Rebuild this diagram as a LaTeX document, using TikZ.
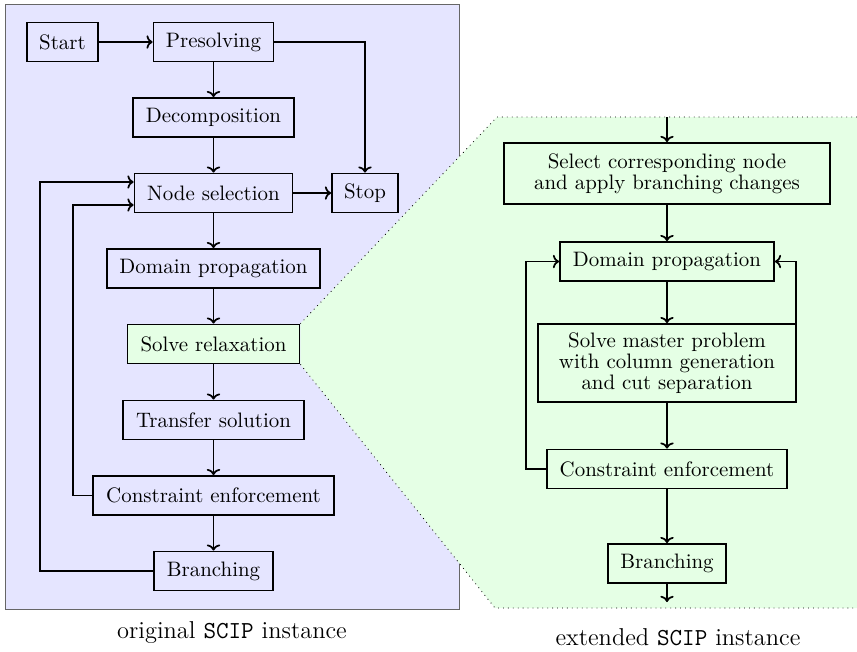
\documentclass[tikz,border=0pt]{standalone}
\usetikzlibrary{calc,backgrounds,arrows.meta}
\begin{document}
\begin{tikzpicture}[x=0.4878pt,y=-0.4878pt,
  box/.style={draw,line width=0.9pt,align=center,inner sep=1pt,minimum height=19pt,font=\fontsize{10.2}{10.4}\selectfont},
  flow/.style={line width=0.85pt,-{To[length=3pt,width=6.5pt]}},
  captxt/.style={font=\fontsize{11.9}{14}\selectfont},
  panel/.style={draw=gray!80!black,fill=blue!10},
  zoomfill/.style={fill=green!10},
  zoomline/.style={dotted}]
\useasboundingbox (0,0) rectangle (857,651);
% left column
\node[box,minimum width=34.6pt] (start) at (62.5,42) {Start};
\node[box,minimum width=58.5pt] (pre) at (213.5,42) {Presolving};
\node[box,minimum width=78.5pt] (dec) at (213.5,117.5) {Decomposition};
\node[box,minimum width=77.1pt] (nsel) at (213.5,193) {Node selection};
\node[box,minimum width=32.2pt] (stop) at (365,193) {Stop};
\node[box,minimum width=103.9pt] (dprop) at (213.5,268.5) {Domain propagation};
\node[box,minimum width=83.9pt,fill=green!10] (srel) at (213.5,344) {Solve relaxation};
\node[box,minimum width=88.3pt] (trans) at (213.5,420) {Transfer solution};
\node[box,minimum width=117.6pt] (cenf) at (213.5,495.5) {Constraint enforcement};
\node[box,minimum width=58pt] (branch) at (213.5,571) {Branching};
% right column
\node[box,minimum width=159pt,minimum height=29.8pt] (sel) at (667,173.5) {Select corresponding node\\and apply branching changes};
\node[box,minimum width=104.4pt] (rdprop) at (667,261.5) {Domain propagation};
\node[box,minimum width=125.9pt,minimum height=38pt] (master) at (667,363) {Solve master problem\\with column generation\\and cut separation};
\node[box,minimum width=117pt] (rcenf) at (667,469) {Constraint enforcement};
\node[box,minimum width=57.6pt] (rbranch) at (667,563.5) {Branching};
\coordinate (rtop) at (667,117);
\coordinate (rbot) at (667,602);
\coordinate (lb) at (40,182);
\coordinate (lc) at (73,205);
% captions
\node[captxt] (cap1) at (232,633) {original \texttt{SCIP} instance};
\node[captxt] (cap2) at (678,637) {extended \texttt{SCIP} instance};
% left edges
\draw[flow] (start) -- (pre);
\draw[flow] (pre) -- (dec);
\draw[flow] (dec) -- (nsel);
\draw[flow] (pre.east) -| (stop.north);
\draw[flow] (nsel) -- (stop);
\draw[flow] (nsel) -- (dprop);
\draw[flow] (dprop) -- (srel);
\draw[flow] (srel) -- (trans);
\draw[flow] (trans) -- (cenf);
\draw[flow] (cenf) -- (branch);
\draw[flow] (branch.west) -| (lb) -- (nsel.west |- lb);
\draw[flow] (cenf.west) -| (lc) -- (nsel.west |- lc);
% right edges
\draw[flow] (rtop) -- (sel);
\draw[flow] (sel) -- (rdprop);
\draw[flow] (rdprop) -- (master);
\draw[flow] (master.east) -| ($(rdprop.east)+(21,0)$) -- (rdprop.east);
\draw[flow] (master) -- (rcenf);
\draw[flow] (rcenf.west) -| ($(rdprop.west)+(-33,0)$) -- (rdprop.west);
\draw[flow] (rcenf) -- (rbranch);
\draw[flow] (rbranch) -- (rbot);
% background
\begin{pgfonlayer}{background}
\draw[panel] (5,4) rectangle (459,609);
\fill[zoomfill] (srel.north east) -- (497,117) -- (857,117) -- (857,608) -- (495,608) -- (srel.south east) -- cycle;
\draw[zoomline] (857,117) -- (497,117) -- (srel.north east);
\draw[zoomline] (srel.south east) -- (495,608) -- (857,608);
\end{pgfonlayer}
\end{tikzpicture}
\end{document}
